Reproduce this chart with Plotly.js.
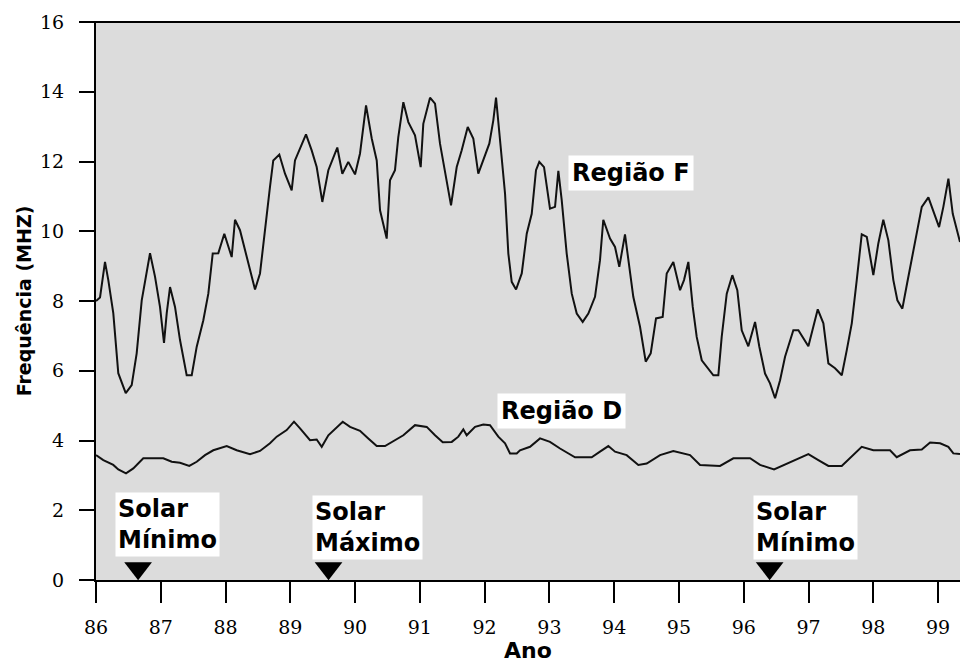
<!DOCTYPE html>
<html>
<head>
<meta charset="utf-8">
<script src="https://cdn.plot.ly/plotly-3.0.1.min.js"></script>
<style>html,body{margin:0;padding:0;background:#fff;}#chart{width:960px;height:668px;}</style>
</head>
<body>
<div id="chart"></div>
<script>
// Região F (frequency, MHz) by year
const yearsF = [86.000,86.062,86.139,86.190,86.267,86.344,86.459,86.551,86.628,86.706,86.834,86.911,86.988,87.050,87.092,87.143,87.220,87.297,87.400,87.478,87.555,87.657,87.734,87.802,87.888,87.981,88.095,88.146,88.223,88.327,88.455,88.532,88.609,88.686,88.737,88.830,88.918,89.021,89.072,89.150,89.242,89.330,89.407,89.494,89.587,89.725,89.803,89.895,89.999,90.076,90.169,90.257,90.334,90.385,90.488,90.539,90.616,90.667,90.745,90.822,90.925,91.013,91.053,91.157,91.234,91.311,91.399,91.481,91.569,91.646,91.739,91.825,91.902,91.980,92.072,92.134,92.176,92.238,92.315,92.366,92.418,92.485,92.573,92.650,92.727,92.793,92.844,92.917,93.009,93.087,93.138,93.190,93.267,93.345,93.422,93.514,93.601,93.704,93.781,93.832,93.936,94.013,94.079,94.167,94.218,94.295,94.399,94.487,94.564,94.646,94.749,94.811,94.913,95.017,95.078,95.145,95.213,95.274,95.352,95.429,95.531,95.608,95.660,95.738,95.824,95.901,95.969,96.071,96.175,96.241,96.329,96.406,96.484,96.561,96.638,96.766,96.844,96.998,97.075,97.143,97.230,97.307,97.410,97.514,97.591,97.668,97.745,97.822,97.900,98.001,98.078,98.155,98.233,98.310,98.372,98.449,98.522,98.645,98.749,98.851,98.928,99.016,99.082,99.160,99.227,99.339];
const valuesF = [8.0,8.1,9.12,8.6,7.65,5.93,5.36,5.59,6.5,8.02,9.37,8.7,7.83,6.8,7.65,8.4,7.83,6.88,5.87,5.87,6.69,7.45,8.21,9.36,9.37,9.93,9.26,10.33,10.03,9.26,8.33,8.79,10.12,11.27,12.03,12.2,11.65,11.17,12.03,12.37,12.78,12.32,11.84,10.84,11.75,12.4,11.65,11.99,11.63,12.23,13.61,12.66,12.03,10.6,9.79,11.46,11.75,12.7,13.7,13.13,12.75,11.84,13.08,13.83,13.66,12.51,11.56,10.74,11.84,12.32,12.99,12.66,11.65,12.03,12.51,13.18,13.83,12.61,11.08,9.36,8.55,8.33,8.79,9.93,10.5,11.75,11.99,11.84,10.65,10.7,11.73,10.89,9.36,8.21,7.64,7.4,7.64,8.12,9.17,10.33,9.79,9.55,8.98,9.91,9.17,8.12,7.26,6.26,6.5,7.5,7.54,8.79,9.12,8.31,8.6,9.12,7.83,6.97,6.3,6.11,5.87,5.87,6.97,8.21,8.74,8.31,7.16,6.7,7.4,6.69,5.92,5.64,5.21,5.73,6.4,7.16,7.16,6.7,7.26,7.76,7.36,6.21,6.07,5.87,6.59,7.36,8.6,9.91,9.84,8.74,9.65,10.33,9.74,8.6,8.02,7.78,8.5,9.74,10.7,10.97,10.6,10.12,10.7,11.51,10.5,9.69];

// Região D (frequency, MHz) by year
const yearsD = [86.000,86.113,86.267,86.344,86.463,86.576,86.730,87.039,87.169,87.297,87.440,87.555,87.683,87.811,88.018,88.172,88.378,88.532,88.686,88.790,88.944,89.057,89.150,89.304,89.407,89.485,89.587,89.690,89.809,89.922,90.076,90.204,90.334,90.462,90.590,90.745,90.925,91.106,91.234,91.353,91.492,91.594,91.671,91.723,91.852,91.980,92.083,92.211,92.315,92.392,92.495,92.546,92.701,92.855,93.009,93.164,93.395,93.653,93.781,93.910,94.013,94.193,94.373,94.502,94.708,94.913,95.171,95.326,95.634,95.840,96.098,96.252,96.468,96.664,96.843,96.998,97.152,97.307,97.513,97.641,97.822,98.001,98.259,98.362,98.567,98.749,98.877,99.032,99.159,99.236,99.339];
const valuesD = [3.58,3.44,3.3,3.17,3.06,3.2,3.49,3.49,3.39,3.36,3.27,3.39,3.58,3.72,3.84,3.72,3.61,3.7,3.92,4.11,4.3,4.54,4.35,4.01,4.03,3.82,4.15,4.32,4.54,4.39,4.28,4.06,3.84,3.84,3.99,4.15,4.44,4.39,4.15,3.95,3.96,4.11,4.32,4.15,4.39,4.46,4.44,4.11,3.92,3.63,3.63,3.72,3.82,4.06,3.96,3.77,3.52,3.52,3.68,3.84,3.68,3.58,3.3,3.34,3.58,3.7,3.58,3.3,3.27,3.49,3.49,3.3,3.17,3.34,3.49,3.61,3.44,3.27,3.27,3.49,3.82,3.72,3.72,3.52,3.72,3.74,3.94,3.92,3.82,3.63,3.61];

// Solar cycle markers
const solarYears = [86.65, 89.59, 96.4];
const solarLabels = ['Solar<br>Mínimo', 'Solar<br>Máximo', 'Solar<br>Mínimo'];
const solarMarkY = [0.34, 0.34, 0.34];

const tickYears = [86,87,88,89,90,91,92,93,94,95,96,97,98,99];
const tickFreq = [0,2,4,6,8,10,12,14,16];

const labelFont = {family: 'DejaVu Sans, sans-serif', size: 24, color: '#000', weight: 'bold'};
const tickFont = {family: 'DejaVu Serif', size: 19, color: '#000'};

const traces = [
  {x: yearsF, y: valuesF, type: 'scatter', mode: 'lines', line: {color: '#111', width: 2}, hoverinfo: 'skip', showlegend: false},
  {x: yearsD, y: valuesD, type: 'scatter', mode: 'lines', line: {color: '#111', width: 2}, hoverinfo: 'skip', showlegend: false},
  {x: solarYears, y: solarMarkY, type: 'scatter', mode: 'markers', marker: {symbol: 'triangle-down', size: 24, color: '#000'}, hoverinfo: 'skip', showlegend: false, cliponaxis: false}
];

const annPos = [[86.293, 2.52], [89.330, 2.44], [96.148, 2.44]];
const annotations = solarLabels.map((t, i) => ({
  x: annPos[i][0], y: annPos[i][1], xref: 'x', yref: 'y', xanchor: 'left', yanchor: 'top',
  text: '<b>' + t + '</b>', showarrow: false, align: 'left', bgcolor: '#fff', borderpad: 2,
  font: labelFont
}));
annotations.push({x: 93.287, y: 12.19, xref: 'x', yref: 'y', xanchor: 'left', yanchor: 'top', text: '<b>Região F</b>', showarrow: false, bgcolor: '#fff', borderpad: 3, font: labelFont});
annotations.push({x: 92.186, y: 5.36, xref: 'x', yref: 'y', xanchor: 'left', yanchor: 'top', text: '<b>Região D</b>', showarrow: false, bgcolor: '#fff', borderpad: 3, font: labelFont});

const layout = {
  width: 960, height: 668,
  margin: {l: 96, r: 0, t: 22, b: 88, pad: 0},
  paper_bgcolor: '#fff', plot_bgcolor: '#dcdcdc',
  xaxis: {
    range: [86, 99.339], tickvals: tickYears, ticktext: tickYears.map(String),
    ticks: 'outside', ticklen: 21, tickwidth: 2, tickcolor: '#000', ticklabelstandoff: 8,
    showline: true, linecolor: '#000', linewidth: 2, showgrid: false, zeroline: false,
    tickfont: tickFont,
    title: {text: '<b>Ano</b>', font: {family: 'DejaVu Sans, sans-serif', size: 22, color: '#000'}, standoff: 4},
    automargin: false, fixedrange: true
  },
  yaxis: {
    range: [0, 16], tickvals: tickFreq,
    ticks: 'outside', ticklen: 15, tickwidth: 2, tickcolor: '#000', ticklabelstandoff: 11,
    showline: true, linecolor: '#000', linewidth: 2, mirror: false, showgrid: false, zeroline: false,
    tickfont: tickFont,
    title: {text: '<b>Frequência (MHZ)</b>', font: {family: 'DejaVu Sans, sans-serif', size: 19, color: '#000'}, standoff: 3},
    automargin: false, fixedrange: true
  },
  shapes: [
    {type: 'line', xref: 'paper', yref: 'paper', x0: -0.018, x1: 1, y0: 1, y1: 1, line: {color: '#000', width: 2}}
  ],
  annotations: annotations,
  showlegend: false
};

Plotly.newPlot('chart', traces, layout, {staticPlot: true, displayModeBar: false});
</script>
</body>
</html>
